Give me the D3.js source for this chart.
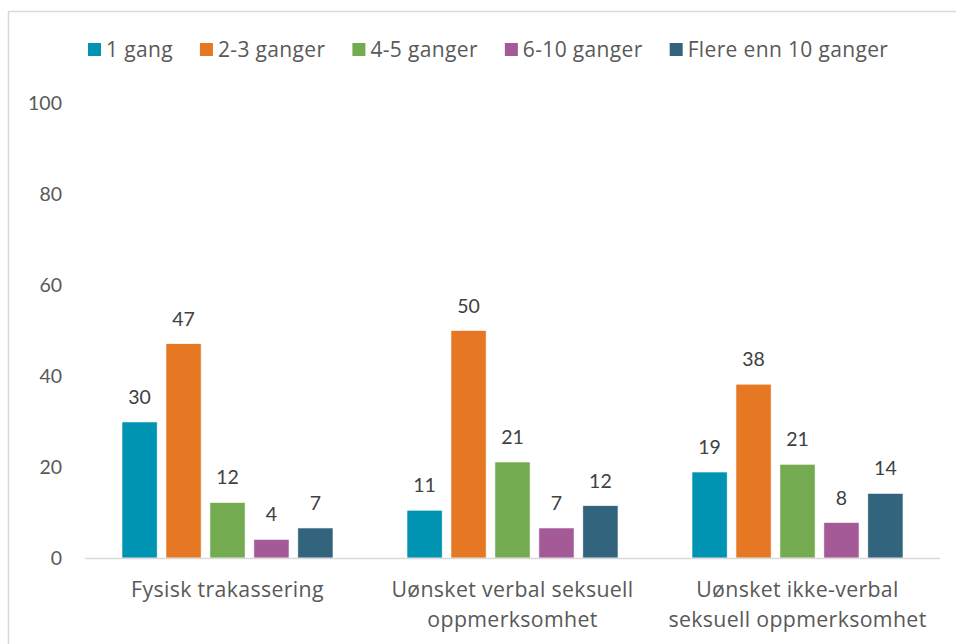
<!DOCTYPE html>
<html><head><meta charset="utf-8">
<script src="https://cdn.jsdelivr.net/npm/d3@7"></script>
<style>body{margin:0;background:#fff;}svg{display:block;font-family:"Source Sans Pro",Lato,"Noto Sans",sans-serif;} .t{font-family:"Source Sans Pro","Open Sans",sans-serif;letter-spacing:0.35px;}</style>
</head><body>
<svg id="c" width="956" height="644"></svg>
<script>
const categories = [["Fysisk trakassering"],["Uønsket verbal seksuell","oppmerksomhet"],["Uønsket ikke-verbal","seksuell oppmerksomhet"]];
const seriesNames = ["1 gang","2-3 ganger","4-5 ganger","6-10 ganger","Flere enn 10 ganger"];
const seriesColors = ["#0093B2","#E67823","#75AB50","#A45A96","#33647D"];
const s1 = [29.9, 10.5, 18.9];
const s2 = [47.1, 50.0, 38.2];
const s3 = [12.2, 21.1, 20.6];
const s4 = [4.1, 6.6, 7.8];
const s5 = [6.6, 11.5, 14.2];
const yTicks = [0,20,40,60,80,100];

const series = [s1,s2,s3,s4,s5];
const svg = d3.select("#c");
svg.append("rect").attr("x",8.5).attr("y",11.5).attr("width",1000).attr("height",700)
  .attr("fill","none").attr("stroke","#d9d9d9").attr("stroke-width",1.5);

const x0 = d3.scaleBand().domain(d3.range(categories.length)).range([85,940]).paddingInner(0).paddingOuter(0);
const x1 = d3.scaleBand().domain(d3.range(series.length)).range([0,211]).paddingInner(0.2).paddingOuter(0);
const y = d3.scaleLinear().domain([0,100]).range([558,103]);

// y tick labels
svg.append("g").selectAll("text").data(yTicks).join("text")
  .attr("x",62).attr("y",d=>y(d)).attr("dy","0.35em").attr("text-anchor","end")
  .attr("fill","#595959").attr("font-size",19.5).text(d=>d);

// bars
const groups = svg.append("g").selectAll("g").data(categories).join("g")
  .attr("transform",(d,i)=>`translate(${x0(i)+x0.bandwidth()/2-105.5},0)`);
series.forEach((s,si)=>{
  groups.append("rect")
    .attr("x",x1(si)).attr("width",x1.bandwidth())
    .attr("y",(d,i)=>y(s[i])).attr("height",(d,i)=>y(0)-y(s[i]))
    .attr("fill",seriesColors[si]).attr("stroke","#fff").attr("stroke-width",0.6);
  groups.append("text")
    .attr("x",x1(si)+x1.bandwidth()/2).attr("y",(d,i)=>y(s[i])-18)
    .attr("text-anchor","middle").attr("fill","#404040").attr("font-size",19.5)
    .text((d,i)=>Math.round(s[i]));
});

// x axis line
svg.append("line").attr("x1",85).attr("x2",940).attr("y1",558.5).attr("y2",558.5)
  .attr("stroke","#d9d9d9").attr("stroke-width",1.5);

// category labels
categories.forEach((lines,i)=>{
  const t = svg.append("text").attr("class","t").attr("text-anchor","middle").attr("fill","#595959").attr("font-size",21.3);
  lines.forEach((l,li)=>{
    t.append("tspan").attr("x",x0(i)+x0.bandwidth()/2).attr("y",597+li*30).text(l);
  });
});

// legend
const lg = svg.append("g");
let lx = 88;
seriesNames.forEach((name,i)=>{
  const g = lg.append("g").attr("transform",`translate(${lx},50)`);
  g.append("rect").attr("x",0).attr("y",-7).attr("width",13).attr("height",13).attr("fill",seriesColors[i]);
  const t = g.append("text").attr("class","t").attr("x",18).attr("dy","0.35em").attr("fill","#595959").attr("font-size",21).text(name);
  lx += 18 + t.node().getComputedTextLength() + 27;
});
</script>
</body></html>
